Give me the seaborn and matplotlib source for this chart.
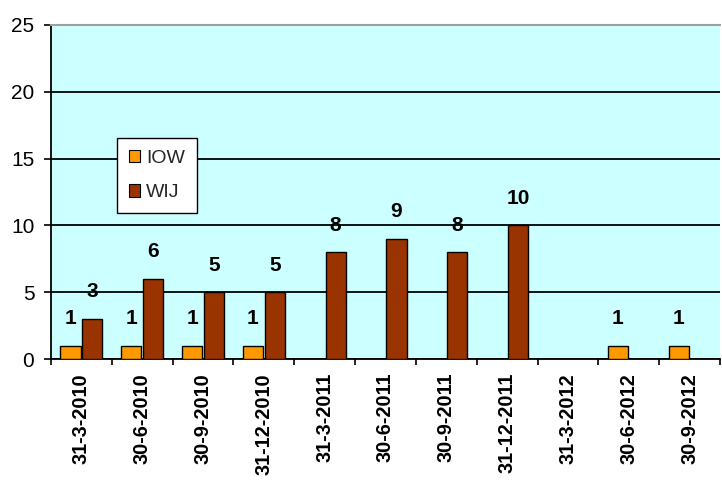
import numpy as np
import pandas as pd
import matplotlib
matplotlib.use("Agg")
import matplotlib.pyplot as plt
import seaborn as sns

categories = ["31-3-2010", "30-6-2010", "30-9-2010", "31-12-2010", "31-3-2011",
              "30-6-2011", "30-9-2011", "31-12-2011", "31-3-2012", "30-6-2012", "30-9-2012"]
iow = [1, 1, 1, 1, np.nan, np.nan, np.nan, np.nan, np.nan, 1, 1]
wij = [3, 6, 5, 5, 8, 9, 8, 10, np.nan, np.nan, np.nan]
series = ["IOW", "WIJ"]
colors = ["#FF9900", "#993300"]
yticks = [0, 5, 10, 15, 20, 25]

df = pd.DataFrame({
    "date": categories * 2,
    "value": iow + wij,
    "series": [series[0]] * len(categories) + [series[1]] * len(categories),
})

sns.set_theme(style="white")
plt.rcParams["font.family"] = ["Liberation Sans", "DejaVu Sans"]

fig = plt.figure(figsize=(7.22, 4.86), dpi=100)
ax = fig.add_axes([51 / 722, 1 - 359 / 486, (720 - 51) / 722, (359 - 25) / 486])
ax.set_facecolor("#CCFFFF")

sns.barplot(data=df, x="date", y="value", hue="series", order=categories,
            hue_order=series, palette=colors, saturation=1, width=0.72, gap=0.08,
            edgecolor="black", linewidth=1.0, ax=ax, errorbar=None, zorder=3)

ax.set_ylim(0, 25)
ax.set_xlim(-0.5, len(categories) - 0.5)
ax.set_yticks(yticks)
ax.yaxis.grid(True, color="black", linewidth=1.3, zorder=0)
ax.set_axisbelow(True)
ax.set_xlabel("")
ax.set_ylabel("")

ax.spines["right"].set_visible(False)
ax.spines["top"].set_color("#A0A0A0")
ax.spines["top"].set_linewidth(1.5)
ax.spines["left"].set_color("black")
ax.spines["left"].set_linewidth(1.3)
ax.spines["bottom"].set_color("black")
ax.spines["bottom"].set_linewidth(1.3)

ax.tick_params(axis="y", left=True, length=5, width=1.2, color="black",
               labelsize=15, pad=7, labelcolor="black")
ax.tick_params(axis="x", bottom=True, length=0, pad=10, labelsize=14.3, labelcolor="black")
for lab in ax.get_xticklabels():
    lab.set_rotation(90)
    lab.set_fontweight("bold")
ax.set_xticks(np.arange(-0.5, len(categories), 1.0), minor=True)
ax.tick_params(axis="x", which="minor", bottom=True, length=4, width=1.2, color="black")

# value labels
for container in ax.containers:
    for bar in container:
        h = bar.get_height()
        if h is None or np.isnan(h) or h == 0:
            continue
        ax.annotate(f"{int(h)}", (bar.get_x() + bar.get_width() / 2, h),
                    xytext=(0, 19.5), textcoords="offset points",
                    ha="center", va="center", fontsize=15, fontweight="bold",
                    color="black", zorder=5)

leg = ax.legend(loc="upper left", bbox_to_anchor=(117 / 722, 1 - 138 / 486),
                bbox_transform=fig.transFigure, fontsize=14, frameon=True,
                fancybox=False, shadow=False, handlelength=0.6, handleheight=0.6,
                handletextpad=0.3, labelspacing=0.9, borderpad=0.6, borderaxespad=0)
leg.get_frame().set_edgecolor("black")
leg.get_frame().set_facecolor("white")
leg.get_frame().set_linewidth(1.0)
leg.get_frame().set_alpha(1)
for h in leg.legend_handles:
    h.set_edgecolor("black")
    h.set_linewidth(0.8)

fig.savefig("out.png", dpi=100)
